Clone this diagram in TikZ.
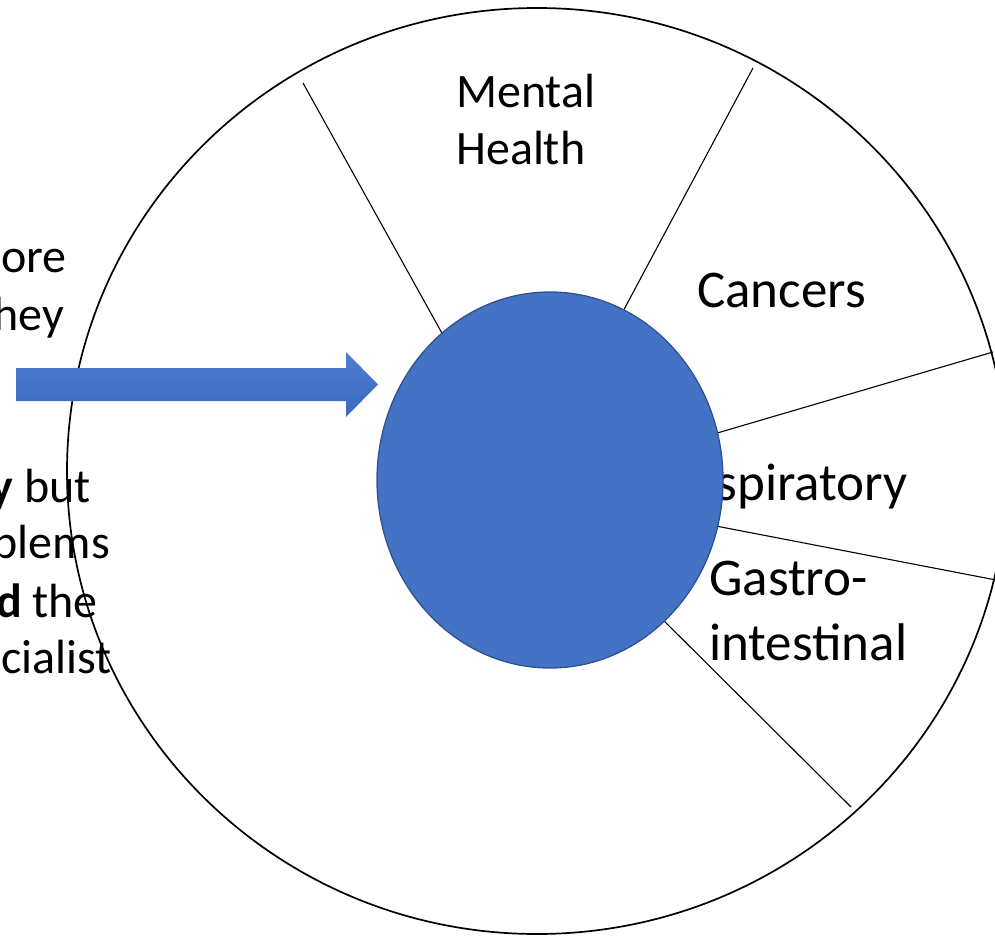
\documentclass[tikz,border=0pt]{standalone}
\usepackage{fontspec}
\setmainfont{Carlito}
\usetikzlibrary{shapes.geometric}
\definecolor{hubblue}{HTML}{4472C4}
\definecolor{hubedge}{HTML}{2F528F}
\definecolor{arrowtop}{HTML}{4F7ECF}
\definecolor{arrowbot}{HTML}{3B69BF}
\tikzset{
  rim/.style={draw=black, line width=1.7pt},
  divider/.style={draw=black, line width=1.1pt},
  smalllabel/.style={anchor=base west, inner sep=0pt, font=\fontsize{48}{58}\selectfont},
  biglabel/.style={anchor=base west, inner sep=0pt, font=\fontsize{53}{64}\selectfont},
  sidetext/.style={anchor=base east, inner sep=0pt, font=\fontsize{48}{58}\selectfont},
  hubstyle/.style={ellipse, draw=hubedge, fill=hubblue, line width=1.3pt,
    inner sep=0pt, minimum width=346pt, minimum height=376pt},
}
\begin{document}
\begin{tikzpicture}[x=1pt,y=-1pt]
\path[use as bounding box] (0,0) rectangle (995,936);
\clip (0,0) rectangle (995,936);

% outer wheel
\draw[rim] (537,471) ellipse [x radius=470pt, y radius=463pt];

% sector dividers (inner ends run under the hub)
\draw[divider] (303,83) -- (468,380);
\draw[divider] (753,68) -- (597,360);
\draw[divider] (993,352) -- (690,441);
\draw[divider] (690,521) -- (996,580);
\draw[divider] (630,587) -- (851,807);

% sector labels
\node[smalllabel] (mental) at (456,108) {Mental};
\node[smalllabel] (health) at (456,165) {Health};
\node[biglabel] (cancers) at (697,307) {Cancers};
\node[biglabel] (resp) at (662,500) {Respiratory};
\node[biglabel] (gastro) at (709,595) {Gastro-};
\node[biglabel] (intest) at (709,660) {intestinal};

% side text
\node[sidetext] (t1) at (67,272) {ore};
\node[sidetext] (t2) at (64,330) {hey};
\node[sidetext] (t3) at (91,502) {\textbf{y} but};
\node[sidetext] (t4) at (110,558) {blems};
\node[sidetext] (t5) at (98,617) {\textbf{d} the};
\node[sidetext] (t6) at (112,673) {cialist};

% hub
\node[hubstyle] (hub) at (550,480) {};

% block arrow towards the hub
\shade[top color=arrowtop, bottom color=arrowbot]
  (16,368) -- (346,368) -- (346,352) -- (378,384.5) -- (346,417) -- (346,401) -- (16,401) -- cycle;
\end{tikzpicture}
\end{document}
